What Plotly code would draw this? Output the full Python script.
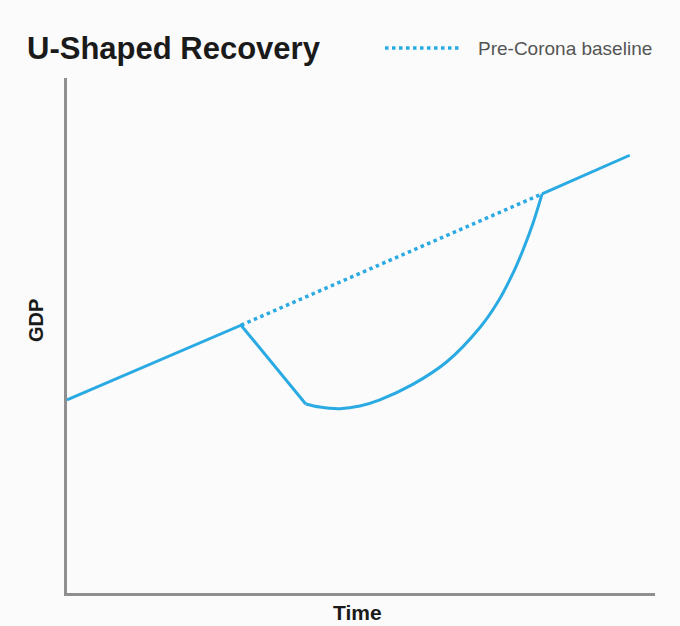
import plotly.graph_objects as go

# Time axis runs 0..100, GDP index 0..100 (arbitrary units)
pre_time = [0.0, 29.6]
pre_gdp = [37.5, 52.0]

shock_time = [29.6, 40.6]
shock_gdp = [52.0, 36.7]

recovery_time = [40.6, 43.0, 46.4, 49.8, 53.2, 58.8, 64.6, 70.2, 73.1, 75.85, 77.55, 79.25, 80.8]
recovery_gdp = [36.7, 36.1, 35.8, 36.3, 37.5, 40.5, 44.9, 51.5, 56.2, 62.1, 66.6, 71.8, 77.5]

post_time = [80.8, 95.7]
post_gdp = [77.5, 85.0]

baseline_time = [29.6, 80.8]
baseline_gdp = [52.0, 77.5]

BLUE = "#2aaae2"
AXIS = "#8f8f8f"
BG = "#fbfbfb"
FONT = "Liberation Sans, Arial"

fig = go.Figure()

solid = dict(color=BLUE, width=3)
fig.add_trace(go.Scatter(x=baseline_time, y=baseline_gdp, mode="lines",
                         line=dict(color=BLUE, width=3.5, dash="dot"),
                         name="Pre-Corona baseline", showlegend=False, hoverinfo="skip"))
fig.add_trace(go.Scatter(x=pre_time + shock_time[1:], y=pre_gdp + shock_gdp[1:], mode="lines",
                         line=solid, showlegend=False, hoverinfo="skip"))
fig.add_trace(go.Scatter(x=recovery_time, y=recovery_gdp, mode="lines",
                         line=dict(color=BLUE, width=3, shape="spline", smoothing=1.0),
                         showlegend=False, hoverinfo="skip"))
fig.add_trace(go.Scatter(x=post_time, y=post_gdp, mode="lines",
                         line=solid, showlegend=False, hoverinfo="skip"))

# Legend sample drawn by hand so the dotted stroke is long enough
legend_y = (593 - 48) / 515
fig.add_shape(type="line", xref="paper", yref="paper",
              x0=(385 - 67) / 588, x1=(460 - 67) / 588, y0=legend_y, y1=legend_y,
              line=dict(color=BLUE, width=3.5, dash="dot"))
fig.add_annotation(text="Pre-Corona baseline", xref="paper", yref="paper",
                   x=(476 - 67) / 588, y=legend_y,
                   xanchor="left", yanchor="middle", showarrow=False,
                   font=dict(family=FONT, size=19, color="#555555"))

# Axis titles
fig.add_annotation(text="<b>Time</b>", xref="paper", yref="paper",
                   x=(357 - 67) / 588, y=(593 - 612) / 515,
                   xanchor="center", yanchor="middle", showarrow=False,
                   font=dict(family=FONT, size=21, color="#1a1a1a"))
fig.add_annotation(text="<b>GDP</b>", xref="paper", yref="paper",
                   x=(36 - 67) / 588, y=(593 - 321) / 515, textangle=-90,
                   xanchor="center", yanchor="middle", showarrow=False,
                   font=dict(family=FONT, size=20, color="#1a1a1a"))

fig.update_layout(
    width=680, height=626,
    margin=dict(l=67, r=25, t=78, b=33),
    paper_bgcolor=BG, plot_bgcolor=BG,
    title=dict(text="<b>U-Shaped Recovery</b>", x=27 / 680, xref="container", xanchor="left",
               y=1 - 48 / 626, yref="container", yanchor="middle",
               font=dict(family=FONT, size=31, color="#1a1a1a")),
    xaxis=dict(range=[0, 100], showgrid=False, zeroline=False, showticklabels=False,
               ticks="", showline=True, linecolor=AXIS, linewidth=3),
    yaxis=dict(range=[0, 100], showgrid=False, zeroline=False, showticklabels=False,
               ticks="", showline=True, linecolor=AXIS, linewidth=3),
)

fig.write_html("out.html")
